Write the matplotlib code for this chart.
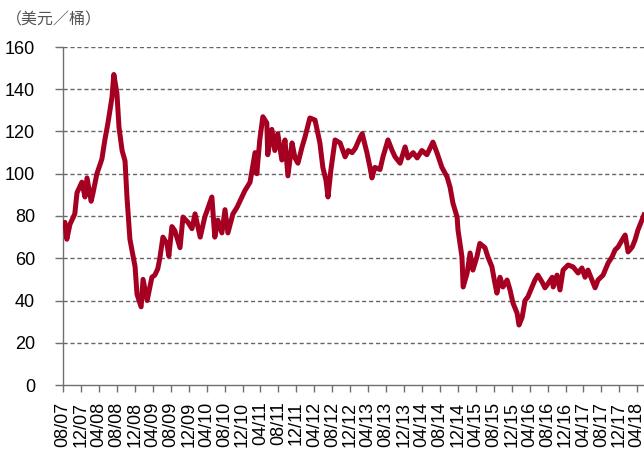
import numpy as np
import pandas as pd
import matplotlib
matplotlib.use("Agg")
import matplotlib.pyplot as plt
import matplotlib.dates as mdates

# Brent price, USD/bbl
dates = [
    "2007-08-01", "2007-08-14", "2007-08-27", "2007-09-17", "2007-10-20", "2007-11-04",
    "2007-12-07", "2007-12-28", "2008-01-11", "2008-02-08", "2008-02-21", "2008-03-18",
    "2008-04-21", "2008-05-11", "2008-06-01", "2008-06-28", "2008-07-11", "2008-08-01",
    "2008-08-15", "2008-09-05", "2008-09-25", "2008-10-08", "2008-10-28", "2008-12-02",
    "2008-12-15", "2009-01-12", "2009-01-25", "2009-02-22", "2009-03-26", "2009-04-15",
    "2009-05-05", "2009-05-19", "2009-06-09", "2009-07-06", "2009-07-19", "2009-08-09",
    "2009-08-29", "2009-10-03", "2009-10-23", "2009-11-26", "2009-12-23", "2010-01-13",
    "2010-02-17", "2010-03-20", "2010-05-07", "2010-05-27", "2010-06-17", "2010-07-14",
    "2010-08-04", "2010-08-24", "2010-09-27", "2010-10-24", "2010-11-27", "2010-12-17",
    "2011-01-21", "2011-02-24", "2011-03-08", "2011-03-28", "2011-04-18", "2011-05-15",
    "2011-05-21", "2011-06-18", "2011-07-08", "2011-07-28", "2011-08-25", "2011-09-15",
    "2011-10-05", "2011-11-02", "2011-11-22", "2011-12-12", "2012-01-09", "2012-01-29",
    "2012-03-02", "2012-04-06", "2012-05-09", "2012-05-29", "2012-06-19", "2012-07-03",
    "2012-07-23", "2012-08-20", "2012-09-23", "2012-10-27", "2012-11-17", "2012-12-14",
    "2013-01-04", "2013-02-07", "2013-02-20", "2013-03-24", "2013-04-14", "2013-04-27",
    "2013-05-17", "2013-06-21", "2013-07-11", "2013-08-14", "2013-09-11", "2013-10-01",
    "2013-11-04", "2013-12-08", "2013-12-28", "2014-02-01", "2014-02-28", "2014-04-01",
    "2014-05-05", "2014-06-15", "2014-07-12", "2014-08-15", "2014-09-19", "2014-10-09",
    "2014-10-29", "2014-11-26", "2014-12-02", "2014-12-29", "2015-01-06", "2015-02-02",
    "2015-02-22", "2015-03-13", "2015-04-09", "2015-04-29", "2015-06-03", "2015-06-23",
    "2015-07-20", "2015-08-10", "2015-08-23", "2015-09-13", "2015-10-03", "2015-10-31",
    "2015-11-20", "2015-12-10", "2016-01-07", "2016-01-20", "2016-02-10", "2016-03-01",
    "2016-03-20", "2016-04-17", "2016-05-07", "2016-05-27", "2016-06-24", "2016-07-14",
    "2016-08-04", "2016-09-01", "2016-09-08", "2016-10-04", "2016-10-24", "2016-11-14",
    "2016-12-18", "2017-01-21", "2017-02-24", "2017-03-22", "2017-04-12", "2017-05-02",
    "2017-05-29", "2017-06-19", "2017-07-09", "2017-08-12", "2017-09-16", "2017-10-12",
    "2017-11-02", "2017-11-22", "2017-12-19", "2018-01-09", "2018-01-29", "2018-02-26",
    "2018-03-17", "2018-04-06", "2018-05-03", "2018-05-17",
]
prices = [
    76, 77, 69, 76, 81, 91,
    96, 89, 98, 87, 91, 100,
    107, 116, 124, 136, 147, 138,
    122, 111, 106, 89, 69, 56,
    43, 37, 50, 40, 51, 52,
    55, 60, 70, 67, 61, 75,
    73, 65, 79.5, 77, 74, 81,
    70, 79.5, 89, 70, 78, 72,
    83, 72, 81, 84, 89, 92,
    96, 110, 100, 116, 127, 124,
    109, 121, 111, 119, 106.5, 116,
    99, 114.6, 107.5, 105, 112.7, 117.4,
    126.4, 125.4, 114.6, 103, 97, 89,
    102, 116, 114.6, 108, 111, 110,
    112, 117.4, 119, 110, 103, 98,
    103, 102, 108, 116, 111, 108,
    105, 112.7, 107.5, 110, 107.5, 111,
    109, 115, 110, 103, 98.5, 93.7,
    86, 79.5, 73.4, 60.6, 46.4, 53,
    62.5, 54.4, 60.6, 67, 65, 60.6,
    56, 48, 43.5, 51, 46.4, 49.7,
    45, 38.8, 34, 28.4, 32, 40,
    41.7, 46.4, 49.7, 52, 48.8, 46,
    48, 51, 46.4, 52, 45, 54.4,
    56.8, 55.9, 53, 55.4, 51, 54.4,
    49.7, 46, 49.7, 52, 57.8, 60.6,
    64, 65.3, 68.6, 71, 63, 65.3,
    68.6, 73.4, 78, 80.5,
]
unit_label = "（美元／桶）"
y_ticks = [0, 20, 40, 60, 80, 100, 120, 140, 160]

df = pd.DataFrame({"date": pd.to_datetime(dates), "price": prices})

fig = plt.figure(figsize=(6.44, 4.59), dpi=100)
ax = fig.add_axes([63 / 644, 1 - 385 / 459, 1 - 63 / 644, (385 - 47) / 459])

for v in y_ticks[1:]:
    ax.axhline(v, color="#666666", lw=1.0, ls=(0, (3, 2)), zorder=1)

ax.plot(df["date"], df["price"], color="#A50021", lw=3.6,
        solid_joinstyle="round", zorder=3)

ax.set_ylim(0, 160)
ax.set_yticks(y_ticks)
ax.set_xlim(pd.Timestamp("2007-08-01"), pd.Timestamp("2018-05-17"))
ax.xaxis.set_major_locator(mdates.MonthLocator(bymonth=(4, 8, 12)))
ax.xaxis.set_major_formatter(mdates.DateFormatter("%m/%y"))

for s in ["top", "right"]:
    ax.spines[s].set_visible(False)
for s in ["left", "bottom"]:
    ax.spines[s].set_color("#707070")
    ax.spines[s].set_linewidth(1.0)

ax.tick_params(axis="y", length=6, width=1, color="#707070", pad=14,
               labelsize=13, labelcolor="black")
ax.tick_params(axis="x", length=5, width=1, color="#707070", pad=7,
               labelsize=13, labelrotation=90, labelcolor="black")
for lab in ax.get_xticklabels() + ax.get_yticklabels():
    lab.set_fontfamily("Liberation Sans")

fig.text(6 / 644, 1 - 20 / 459, unit_label, ha="left", va="center",
         fontsize=11.5, color="#555555",
         family=["Noto Sans CJK SC", "DejaVu Sans"])

fig.savefig("out.png", dpi=100)
